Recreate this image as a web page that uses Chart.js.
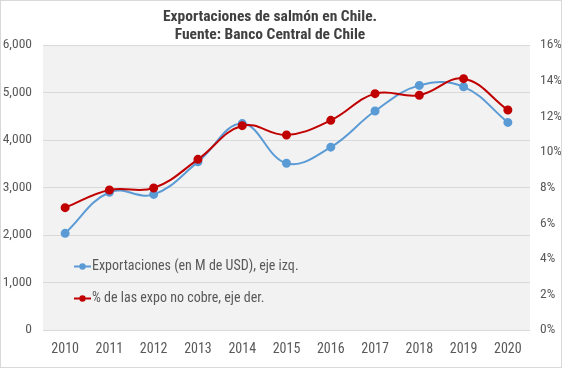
<!DOCTYPE html>
<html>
<head>
<meta charset="utf-8">
<script src="https://cdn.jsdelivr.net/npm/chart.js@4/dist/chart.umd.min.js"></script>
<style>
  html,body{margin:0;padding:0;background:#fff;}
  #wrap{position:relative;width:562px;height:368px;box-sizing:border-box;border:1px solid #d9d9d9;background:#fff;
    font-family:"Roboto Condensed",Roboto,sans-serif;}
  #box{position:absolute;left:0;top:0;width:560px;height:366px;}
  #title{position:absolute;left:0;width:538px;top:6px;text-align:center;font-weight:bold;font-size:15.5px;line-height:18px;color:#404040;}
  .leg{position:absolute;left:73px;font-size:14px;color:#595959;white-space:nowrap;line-height:16px;}
  .leg svg{vertical-align:-1px;margin-right:1px;}
</style>
</head>
<body>
<div id="wrap">
  <div id="box"><canvas id="c"></canvas></div>
  <div id="title">Exportaciones de salmón en Chile.<br>Fuente: Banco Central de Chile</div>
  <div class="leg" style="top:256px"><svg width="17" height="9"><line x1="0" y1="4.5" x2="17" y2="4.5" stroke="#5b9bd5" stroke-width="2"/><circle cx="8.5" cy="4.5" r="3.2" fill="#5b9bd5"/></svg>Exportaciones (en M de USD), eje izq.</div>
  <div class="leg" style="top:288px"><svg width="17" height="9"><line x1="0" y1="4.5" x2="17" y2="4.5" stroke="#c00000" stroke-width="2"/><circle cx="8.5" cy="4.5" r="3.2" fill="#c00000"/></svg>% de las expo no cobre, eje der.</div>
</div>
<script>
const years = ['2010','2011','2012','2013','2014','2015','2016','2017','2018','2019','2020'];
// exportaciones, millones de USD (eje izq.)
const exportaciones = [2035, 2900, 2855, 3540, 4345, 3510, 3850, 4610, 5150, 5120, 4370];
// % de las exportaciones no cobre (eje der.)
const pctNoCobre = [6.87, 7.86, 7.97, 9.58, 11.47, 10.95, 11.77, 13.27, 13.18, 14.11, 12.35];
const leftTicks = [0, 1000, 2000, 3000, 4000, 5000, 6000];
const rightTicks = [0, 2, 4, 6, 8, 10, 12, 14, 16];

const FONT = '"Roboto Condensed",Roboto,sans-serif';
const GREY = '#595959';

const plotBg = {
  id: 'plotBg',
  beforeDraw(chart){
    const a = chart.chartArea, ctx = chart.ctx;
    ctx.save(); ctx.fillStyle = '#f2f2f2';
    ctx.fillRect(a.left, a.top, a.right - a.left, a.bottom - a.top);
    ctx.restore();
  }
};

new Chart(document.getElementById('c').getContext('2d'), {
  type: 'line',
  data: {
    labels: years,
    datasets: [
      { label: 'Exportaciones (en M de USD), eje izq.', data: exportaciones, yAxisID: 'y',
        borderColor: '#5b9bd5', backgroundColor: '#5b9bd5', borderWidth: 2, pointRadius: 3.5,
        tension: 0.4, order: 2 },
      { label: '% de las expo no cobre, eje der.', data: pctNoCobre, yAxisID: 'y1',
        borderColor: '#c00000', backgroundColor: '#c00000', borderWidth: 2, pointRadius: 3.5,
        tension: 0.4, order: 1 }
    ]
  },
  options: {
    responsive: true, maintainAspectRatio: false, animation: false,
    layout: { padding: { top: 44, bottom: 0, left: 0, right: 0 } },
    plugins: { legend: { display: false }, title: { display: false }, tooltip: { enabled: false } },
    scales: {
      x: {
        offset: true,
        grid: { display: false, drawTicks: false }, border: { display: false },
        ticks: { color: GREY, font: { family: FONT, size: 14 }, padding: 11, maxRotation: 0 },
        afterFit: s => { s.height = 37; }
      },
      y: {
        position: 'left', min: 0, max: 6000,
        afterBuildTicks: s => { s.ticks = leftTicks.map(v => ({ value: v })); },
        grid: { color: '#d9d9d9', drawTicks: false }, border: { display: false },
        ticks: { color: GREY, font: { family: FONT, size: 13.5 }, padding: 11,
          callback: v => Number(v).toLocaleString('en-US') },
        afterFit: s => { s.width = 42; }
      },
      y1: {
        position: 'right', min: 0, max: 16,
        afterBuildTicks: s => { s.ticks = rightTicks.map(v => ({ value: v })); },
        grid: { display: false, drawTicks: false }, border: { display: false },
        ticks: { color: GREY, font: { family: FONT, size: 13.5 }, padding: 10, callback: v => v + '%' },
        afterFit: s => { s.width = 31; }
      }
    }
  },
  plugins: [plotBg]
});
</script>
</body>
</html>
